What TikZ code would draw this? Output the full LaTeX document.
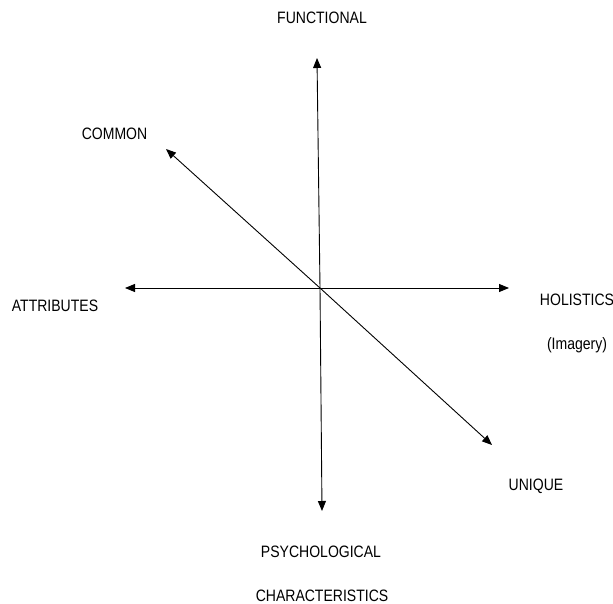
\documentclass[tikz,border=0pt]{standalone}
\usepackage{fontspec}
\setmainfont{Liberation Sans}[FakeStretch=0.85]
\usetikzlibrary{arrows.meta}
\begin{document}
\begin{tikzpicture}[x=1pt,y=-1pt,
  axis/.style={line width=0.9pt,-{Triangle[length=10pt,width=8pt]}},
  lbl/.style={anchor=base,inner sep=0pt,font=\fontsize{16.5}{19}\selectfont}]
\useasboundingbox (0,0) rectangle (613,604);
\coordinate (o) at (320,288);
\coordinate (top) at (317,58);
\coordinate (bot) at (322,511);
\coordinate (lft) at (125,288);
\coordinate (rgt) at (509,288);
\coordinate (ul) at (166,149);
\coordinate (lr) at (492,445);
\draw[axis] (o) -- (top);
\draw[axis] (o) -- (bot);
\draw[axis] (o) -- (lft);
\draw[axis] (o) -- (rgt);
\draw[axis] (o) -- (ul);
\draw[axis] (o) -- (lr);
\node[lbl] (f) at (322,24) {FUNCTIONAL};
\node[lbl] (c) at (114.5,140) {COMMON};
\node[lbl] (a) at (55,311) {ATTRIBUTES};
\node[lbl] (h) at (577,305) {HOLISTICS};
\node[lbl] (i) at (577,349) {(Imagery)};
\node[lbl] (u) at (536,490) {UNIQUE};
\node[lbl] (p) at (321,557) {PSYCHOLOGICAL};
\node[lbl] (ch) at (322,601) {CHARACTERISTICS};
\end{tikzpicture}
\end{document}
